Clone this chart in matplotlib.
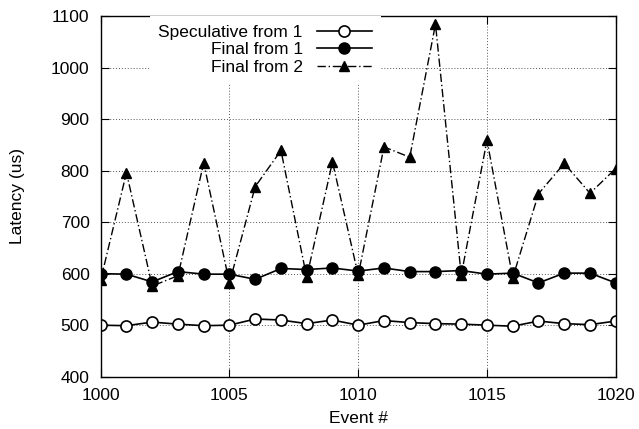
import matplotlib
matplotlib.use("Agg")
import matplotlib.pyplot as plt

plt.rcParams['font.family'] = ['Liberation Sans', 'DejaVu Sans']

events = list(range(1000, 1021))
spec_from_1 = [500, 499, 506, 502, 499, 500, 512, 510, 503, 510, 500,
               509, 505, 503, 502, 500, 498, 508, 503, 501, 508]
final_from_1 = [600, 599, 584, 604, 599, 599, 589, 610, 608, 611, 605,
                611, 604, 604, 606, 599, 601, 582, 601, 601, 582]
final_from_2 = [588, 796, 576, 596, 815, 582, 769, 839, 593, 817, 597,
                846, 826, 1084, 597, 859, 592, 755, 814, 756, 804]

fs = 12.5

fig = plt.figure(figsize=(6.39, 4.29), dpi=100)
ax = fig.add_axes([0.1576, 0.1219, 0.806, 0.8408])

ax.plot(events, spec_from_1, color='black', lw=1.2, marker='o', ms=8,
        mfc='white', mec='black', mew=1.2, label='Speculative from 1')
ax.plot(events, final_from_1, color='black', lw=1.2, marker='o', ms=8,
        mfc='black', mec='black', label='Final from 1')
ax.plot(events, final_from_2, color='black', lw=1.0, ls=(0, (6, 2, 1, 2)),
        marker='^', ms=7.5, mfc='black', mec='black', label='Final from 2')

ax.set_xlim(1000, 1020)
ax.set_ylim(400, 1100)
ax.set_xticks(range(1000, 1021, 5))
ax.set_yticks(range(400, 1101, 100))
ax.tick_params(direction='in', length=6, width=0.8, top=True, right=True,
               labelsize=fs, pad=8)
ax.grid(True, ls=(0, (1, 2)), color='#555555', lw=0.7)
ax.set_axisbelow(True)
for s in ax.spines.values():
    s.set_linewidth(1.0)

ax.set_xlabel('Event #', fontsize=fs, labelpad=6)
ax.set_ylabel('Latency (us)', fontsize=fs, labelpad=19)

leg = ax.legend(loc='upper right', bbox_to_anchor=(0.544, 1.0), fontsize=fs,
                markerfirst=False, handlelength=3.2, handletextpad=0.8,
                labelspacing=0.13, borderpad=0.5, borderaxespad=0.0,
                frameon=True, fancybox=False, framealpha=1.0)
leg.get_frame().set_edgecolor('none')
leg.get_frame().set_facecolor('white')

fig.savefig('out.png', dpi=100)
